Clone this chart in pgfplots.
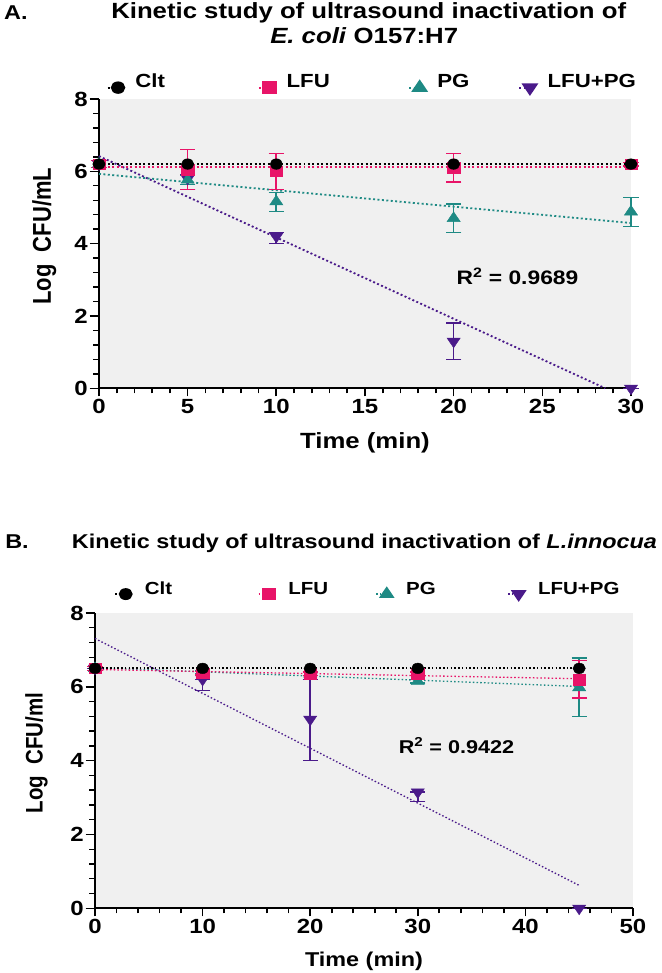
\documentclass[border=0pt]{standalone}
\usepackage{graphicx}
\usepackage{fontspec}
\setmainfont{Liberation Sans}
\setsansfont{Liberation Sans}
\usepackage{pgfplots}
\pgfplotsset{compat=1.18}
\usepackage{pgfplotstable}

\definecolor{cclt}{RGB}{0,0,0}
\definecolor{clfu}{RGB}{232,20,104}
\definecolor{cpg}{RGB}{30,138,132}
\definecolor{clp}{RGB}{74,26,138}
\definecolor{bgc}{RGB}{240,240,240}

% ---------- Panel A data ----------
\pgfplotstableread{
x y
0 6.20
5 6.20
10 6.20
20 6.20
30 6.20
}\AClt
\pgfplotstableread{
x y ep em
0 6.20 0.10 0.10
5 6.05 0.55 0.55
10 6.00 0.50 0.50
20 6.10 0.40 0.40
30 6.20 0.05 0.05
}\ALFU
\pgfplotstableread{
x y ep em
0 6.20 0.10 0.10
5 5.76 0.12 0.12
10 5.16 0.25 0.27
20 4.70 0.40 0.40
30 4.88 0.40 0.40
}\APG
\pgfplotstableread{
x y ep em
0 6.20 0.10 0.10
5 5.80 0.10 0.30
10 4.20 0.10 0.20
20 1.30 0.50 0.50
30 0.00 0.00 0.00
}\ALP

% ---------- Panel B data ----------
\pgfplotstableread{
x y
0 6.50
10 6.50
20 6.50
30 6.50
45 6.50
}\BClt
\pgfplotstableread{
x y ep em
0 6.50 0.05 0.05
10 6.37 0.05 0.05
20 6.35 0.05 0.05
30 6.35 0.05 0.05
45 6.20 0.52 0.50
}\BLFU
\pgfplotstableread{
x y ep em
0 6.50 0.05 0.05
10 6.40 0.05 0.05
20 6.35 0.05 0.05
30 6.15 0.05 0.05
45 5.98 0.80 0.78
}\BPG
\pgfplotstableread{
x y ep em
0 6.50 0.00 0.00
10 6.20 0.00 0.30
20 5.12 1.08 1.12
30 3.15 0.00 0.26
45 0.00 0.00 0.00
}\BLP

\pgfplotsset{
  panel/.style={
    scale only axis,
    axis x line=bottom, axis y line=left,
    axis line style={-, line width=1.6pt, black},
    axis background/.style={fill=bgc},
    tick align=outside,
    major tick length=8pt, minor tick length=5pt,
    every tick/.style={black, line width=1.4pt},
    minor x tick num=4, minor y tick num=4,
    ymin=0, ymax=8, ytick={0,2,4,6,8},
    clip=false,
    /pgf/number format/assume math mode=true,
    tick label style={font=\bfseries\fontsize{20.5}{20.5}\selectfont},
    xticklabel style={inner sep=3pt},
    yticklabel style={inner sep=1.5pt},
    legend columns=4,
    legend cell align=left,
    legend style={draw=none, fill=none, inner sep=0pt, outer sep=0pt,
      nodes={inner sep=0pt, anchor=base west},
      /tikz/every even column/.style={column sep=0pt}},
    legend image code/.code={%
      \draw[#1, mark=none] (0pt,0pt) -- (9pt,0pt);
      \draw[#1, only marks, every mark/.append style={solid}] plot coordinates {(9pt,0pt)};},
  },
  fitA/.style={line width=1.8pt, dash pattern=on 1.7pt off 2.1pt, forget plot},
  fitB/.style={line width=1.3pt, dash pattern=on 1.3pt off 1.9pt, forget plot},
  dat/.style={only marks, forget plot, #1, mark options={solid},
    error bars/y dir=both, error bars/y explicit,
    error bars/error bar style={#1, line width=1.4pt, solid},
    error bars/error mark options={#1, rotate=90, line width=1.4pt, mark size=6.5pt, solid}},
}

\begin{document}
\scalebox{1.17}[1]{%
\begin{tikzpicture}
\path[use as bounding box] (0pt,0pt) rectangle (564.96pt,973pt);

% ---------------- Titles ----------------
\node[anchor=base west, inner sep=0pt, font=\bfseries\fontsize{20}{20}\selectfont] at (3.4pt,953.5pt) {A.};
\node[anchor=base west, inner sep=0pt, font=\bfseries\fontsize{22}{22}\selectfont] at (94.9pt,954.7pt) {Kinetic study of ultrasound inactivation of};
\node[anchor=base west, inner sep=0pt, font=\bfseries\fontsize{22}{22}\selectfont] at (230.8pt,929.7pt) {\textit{E. coli} O157:H7};

\node[anchor=base west, inner sep=0pt, font=\bfseries\fontsize{20}{20}\selectfont] at (4.3pt,424pt) {B.};
\node[anchor=base west, inner sep=0pt, font=\bfseries\fontsize{20}{20}\selectfont] at (61.3pt,424pt) {Kinetic study of ultrasound inactivation of \textit{L.innocua}};

% ---------------- Panel A ----------------
\begin{axis}[panel,
  at={(84.6pt,584.7pt)}, anchor=south west,
  width=454.7pt, height=289.3pt,
  xmin=0, xmax=30, xtick={0,5,10,15,20,25,30},
  xlabel={Time (min)}, ylabel={Log\ \ CFU/mL},
  xlabel style={font=\bfseries\fontsize{22}{22}\selectfont, at={(axis description cs:0.5,-0.207)}, anchor=base},
  ylabel style={font=\bfseries\fontsize{22}{22}\selectfont, at={(axis description cs:-0.103,0.526)}, anchor=center},
  legend style={at={(0,1)}, anchor=west, xshift=6.4pt, yshift=15pt,
    font=\bfseries\fontsize{19}{19}\selectfont,
    /tikz/every odd column/.style={column sep=9.5pt}},
]
\addlegendimage{cclt, mark=*, mark size=5.3pt, line width=1.8pt, dash pattern=on 1.7pt off 2.1pt}
\addlegendentry{\makebox[104.6pt][l]{Clt}}
\addlegendimage{clfu, mark=square*, mark size=5.3pt, line width=1.8pt, dash pattern=on 1.7pt off 2.1pt}
\addlegendentry{\makebox[103.8pt][l]{LFU}}
\addlegendimage{cpg, mark=triangle*, mark size=6.5pt, line width=1.8pt, dash pattern=on 1.7pt off 2.1pt}
\addlegendentry{\makebox[69.2pt][l]{PG}}
\addlegendimage{clp, mark=triangle*, mark options={rotate=180}, mark size=6.5pt, line width=1.8pt, dash pattern=on 1.7pt off 2.1pt}
\addlegendentry{LFU+PG}

% fitted lines
\addplot[clp, fitA] coordinates {(0,6.42) (28.55,0)};
\addplot[cpg, fitA] coordinates {(0,5.93) (30,4.57)};
\addplot[clfu, fitA] coordinates {(0,6.11) (30,6.11)};
\addplot[cclt, fitA] coordinates {(0,6.20) (30,6.20)};

% data
\addplot[dat=clp, mark=triangle*, mark options={rotate=180}, mark size=6.5pt]
  table[x=x, y=y, y error plus=ep, y error minus=em] {\ALP};
\addplot[dat=cpg, mark=triangle*, mark size=6.5pt]
  table[x=x, y=y, y error plus=ep, y error minus=em] {\APG};
\addplot[dat=clfu, mark=square*, mark size=5.3pt]
  table[x=x, y=y, y error plus=ep, y error minus=em] {\ALFU};
\addplot[only marks, forget plot, cclt, mark=*, mark options={solid}, mark size=5.3pt]
  table[x=x, y=y] {\AClt};

\node[font=\bfseries\fontsize{19.5}{19.5}\selectfont] at (axis cs:23.6,3.09) {R\textsuperscript{2} = 0.9689};
\end{axis}

% ---------------- Panel B ----------------
\begin{axis}[panel,
  at={(81.2pt,64.7pt)}, anchor=south west,
  width=459.8pt, height=295.3pt,
  xmin=0, xmax=50, xtick={0,10,20,30,40,50},
  xlabel={Time (min)}, ylabel={Log\ \ CFU/ml},
  xlabel style={font=\bfseries\fontsize{20}{20}\selectfont, at={(axis description cs:0.5,-0.198)}, anchor=base},
  ylabel style={font=\bfseries\fontsize{20.5}{20.5}\selectfont, at={(axis description cs:-0.109,0.526)}, anchor=center},
  legend style={at={(0,1)}, anchor=west, xshift=16.6pt, yshift=22pt,
    font=\bfseries\fontsize{17.5}{17.5}\selectfont,
    /tikz/every odd column/.style={column sep=11pt}},
]
\addlegendimage{cclt, mark=*, mark size=5.3pt, line width=1.3pt, dash pattern=on 1.3pt off 1.9pt}
\addlegendentry{\makebox[96.7pt][l]{Clt}}
\addlegendimage{clfu, mark=square*, mark size=5.3pt, line width=1.3pt, dash pattern=on 1.3pt off 1.9pt}
\addlegendentry{\makebox[74.5pt][l]{LFU}}
\addlegendimage{cpg, mark=triangle*, mark size=6.5pt, line width=1.3pt, dash pattern=on 1.3pt off 1.9pt}
\addlegendentry{\makebox[86.5pt][l]{PG}}
\addlegendimage{clp, mark=triangle*, mark options={rotate=180}, mark size=6.5pt, line width=1.3pt, dash pattern=on 1.3pt off 1.9pt}
\addlegendentry{LFU+PG}

\addplot[clp, fitB] coordinates {(0,7.31) (45,0.62)};
\addplot[cpg, fitB] coordinates {(0,6.52) (45,6.01)};
\addplot[clfu, fitB] coordinates {(0,6.47) (45,6.22)};
\addplot[cclt, fitB, line width=1.8pt] coordinates {(0,6.50) (45,6.50)};

\addplot[dat=clp, mark=triangle*, mark options={rotate=180}, mark size=6.5pt]
  table[x=x, y=y, y error plus=ep, y error minus=em] {\BLP};
\addplot[dat=cpg, mark=triangle*, mark size=6.5pt]
  table[x=x, y=y, y error plus=ep, y error minus=em] {\BPG};
\addplot[dat=clfu, mark=square*, mark size=5.3pt]
  table[x=x, y=y, y error plus=ep, y error minus=em] {\BLFU};
\addplot[only marks, forget plot, cclt, mark=*, mark options={solid}, mark size=5.3pt]
  table[x=x, y=y] {\BClt};

\node[font=\bfseries\fontsize{18.5}{18.5}\selectfont] at (axis cs:33.6,4.41) {R\textsuperscript{2} = 0.9422};
\end{axis}
\end{tikzpicture}%
}
\end{document}
